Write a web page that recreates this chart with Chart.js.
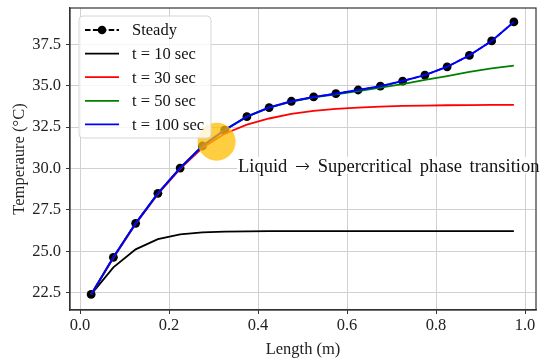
<!DOCTYPE html>
<html>
<head>
<meta charset="utf-8">
<script src="https://cdn.jsdelivr.net/npm/chart.js@4.4.1/dist/chart.umd.min.js"></script>
<style>
  html, body { margin: 0; padding: 0; background: #fff; }
  #wrap { width: 545px; height: 360px; }
</style>
</head>
<body>
<div id="wrap"><canvas id="tempChart" width="545" height="360"></canvas></div>
<script>
// Length along the channel (m)
var lengthX = [0.025, 0.075, 0.125, 0.175, 0.225, 0.275, 0.325, 0.375, 0.425, 0.475,
               0.525, 0.575, 0.625, 0.675, 0.725, 0.775, 0.825, 0.875, 0.925, 0.975];

var steady = [22.40, 24.64, 26.69, 28.50, 30.03, 31.36, 32.32, 33.13, 33.68, 34.06,
              34.32, 34.52, 34.74, 34.97, 35.28, 35.64, 36.14, 36.83, 37.70, 38.85];
var t10  = [22.40, 24.03, 25.12, 25.74, 26.03, 26.15, 26.19, 26.21, 26.22, 26.22,
            26.22, 26.22, 26.22, 26.22, 26.22, 26.22, 26.22, 26.22, 26.22, 26.22];
var t30  = [22.40, 24.60, 26.65, 28.45, 29.98, 31.25, 32.10, 32.65, 33.02, 33.30,
            33.48, 33.60, 33.68, 33.74, 33.78, 33.80, 33.82, 33.83, 33.84, 33.84];
var t50  = [22.40, 24.64, 26.69, 28.50, 30.03, 31.36, 32.32, 33.13, 33.67, 34.04,
            34.29, 34.48, 34.68, 34.88, 35.10, 35.35, 35.58, 35.84, 36.04, 36.21];
var t100 = [22.40, 24.64, 26.69, 28.50, 30.03, 31.36, 32.32, 33.13, 33.68, 34.06,
            34.32, 34.52, 34.74, 34.97, 35.28, 35.64, 36.14, 36.83, 37.70, 38.85];

var xTicks = [0.0, 0.2, 0.4, 0.6, 0.8, 1.0];
var yTicks = [22.5, 25.0, 27.5, 30.0, 32.5, 35.0, 37.5];

// highlight of the phase transition
var markX = 0.307, markY = 31.62;
var noteX = 0.355, noteY = 29.81;
var noteWords = ["Liquid", "\u2192", "Supercritical", "phase", "transition"];

var serif = "'Liberation Serif', 'Times New Roman', serif";

function pts(ys) {
    return lengthX.map(function(x, i){ return {x: x, y: ys[i]}; });
}

var legendItems = [
    {label: "Steady", color: "#000000", dash: true, dot: true},
    {label: "t = 10 sec", color: "#000000"},
    {label: "t = 30 sec", color: "#ff0000"},
    {label: "t = 50 sec", color: "#008000"},
    {label: "t = 100 sec", color: "#0000ff"}
];

function noPad(s) {
    s.paddingTop = 0; s.paddingBottom = 0; s.paddingLeft = 0; s.paddingRight = 0;
}

var extras = {
    id: 'extras',
    afterDatasetsDraw: function(chart) {
        var ctx = chart.ctx, xs = chart.scales.x, ys = chart.scales.y;
        var area = chart.chartArea;

        // note text with white box
        ctx.save();
        var txtFont = "18.5px " + serif, arrowFont = "300 18px 'DejaVu Sans'";
        var px = xs.getPixelForValue(noteX), py = ys.getPixelForValue(noteY);
        ctx.font = txtFont;
        var gap = ctx.measureText(" ").width + 3;
        var widths = noteWords.map(function(w){
            ctx.font = (w === "\u2192") ? arrowFont : txtFont;
            return ctx.measureText(w).width;
        });
        var total = 0;
        widths.forEach(function(w, i){ total += w + (i ? gap : 0); });
        ctx.fillStyle = "rgba(255,255,255,0.9)";
        ctx.fillRect(px - 1, py - 15, total + 2, 17);
        ctx.fillStyle = "#111";
        ctx.textBaseline = "alphabetic";
        var cx = px;
        noteWords.forEach(function(w, i){
            ctx.font = (w === "\u2192") ? arrowFont : txtFont;
            ctx.fillText(w, cx, py);
            cx += widths[i] + gap;
        });
        ctx.restore();

        // frame top and right
        ctx.save();
        ctx.strokeStyle = "#333";
        ctx.lineWidth = 1.2;
        ctx.strokeRect(area.left, area.top, area.right - area.left, area.bottom - area.top);
        ctx.restore();

        // legend
        ctx.save();
        var bx = area.left + 9, by = area.top + 8, bw = 132, bh = 122;
        ctx.beginPath();
        ctx.roundRect(bx, by, bw, bh, 4);
        ctx.fillStyle = "rgba(255,255,255,0.8)";
        ctx.fill();
        ctx.strokeStyle = "#d6d6d6";
        ctx.lineWidth = 1;
        ctx.stroke();
        ctx.font = "16.5px " + serif;
        ctx.textBaseline = "middle";
        legendItems.forEach(function(it, i){
            var ry = by + 14 + i * 23.6;
            ctx.strokeStyle = it.color;
            ctx.lineWidth = 1.8;
            ctx.setLineDash(it.dash ? [5.5, 2.4] : []);
            ctx.beginPath();
            ctx.moveTo(bx + 6, ry);
            ctx.lineTo(bx + 40, ry);
            ctx.stroke();
            ctx.setLineDash([]);
            if (it.dot) {
                ctx.beginPath();
                ctx.arc(bx + 23, ry, 4.3, 0, Math.PI * 2);
                ctx.fillStyle = it.color;
                ctx.fill();
            }
            ctx.fillStyle = "#111";
            ctx.fillText(it.label, bx + 53, ry + 1);
        });
        ctx.restore();
    }
};

var ctxT = document.getElementById("tempChart");

var tempChart = new Chart(ctxT, {
    type: 'line',
    data: {
        datasets: [
            {label: 'Steady', data: pts(steady), borderColor: '#000', backgroundColor: '#000',
             borderDash: [5.5, 2.4], borderWidth: 1.6, pointRadius: 4.4, pointBorderWidth: 0, order: 6},
            {label: 't = 10 sec', data: pts(t10), borderColor: '#000', borderWidth: 1.8, pointRadius: 0, order: 5},
            {label: 't = 30 sec', data: pts(t30), borderColor: '#ff0000', borderWidth: 1.8, pointRadius: 0, order: 4},
            {label: 't = 50 sec', data: pts(t50), borderColor: '#008000', borderWidth: 1.8, pointRadius: 0, order: 3},
            {label: 't = 100 sec', data: pts(t100), borderColor: '#0000ff', borderWidth: 2, pointRadius: 0, order: 2},
            {type: 'bubble', label: 'mark', data: [{x: markX, y: markY, r: 19}],
             backgroundColor: 'rgba(255,190,0,0.75)', borderWidth: 0, order: 1}
        ]
    },
    options: {
        responsive: false,
        animation: false,
        events: [],
        layout: { autoPadding: false, padding: {top: 8, right: 9, left: 0, bottom: 0} },
        plugins: { legend: {display: false}, tooltip: {enabled: false} },
        scales: {
            x: {
                type: 'linear', min: -0.0225, max: 1.0247,
                afterBuildTicks: function(s){ s.ticks = xTicks.map(function(v){ return {value: v}; }); },
                afterFit: function(s){ s.height = 50; noPad(s); },
                ticks: { color: '#222', font: {family: serif, size: 16.5}, padding: 2,
                         callback: function(v){ return v.toFixed(1); } },
                grid: { color: '#d0d0d0', lineWidth: 1, tickLength: 4, tickColor: '#333' },
                border: { color: '#333', width: 1.2 },
                title: { display: true, text: 'Length (m)', color: '#222',
                         font: {family: serif, size: 16.5}, padding: {top: 0, bottom: 0} }
            },
            y: {
                type: 'linear', min: 21.46, max: 39.69,
                afterBuildTicks: function(s){ s.ticks = yTicks.map(function(v){ return {value: v}; }); },
                afterFit: function(s){ s.width = 70; noPad(s); },
                ticks: { color: '#222', font: {family: serif, size: 16.5}, padding: 5,
                         callback: function(v){ return v.toFixed(1); } },
                grid: { color: '#d0d0d0', lineWidth: 1, tickLength: 4, tickColor: '#333' },
                border: { color: '#333', width: 1.2 },
                title: { display: true, text: 'Temperaure (\u00b0C)', color: '#222',
                         font: {family: serif, size: 16.5}, padding: {top: 10, bottom: 0} }
            }
        }
    },
    plugins: [extras]
});
</script>
</body>
</html>
